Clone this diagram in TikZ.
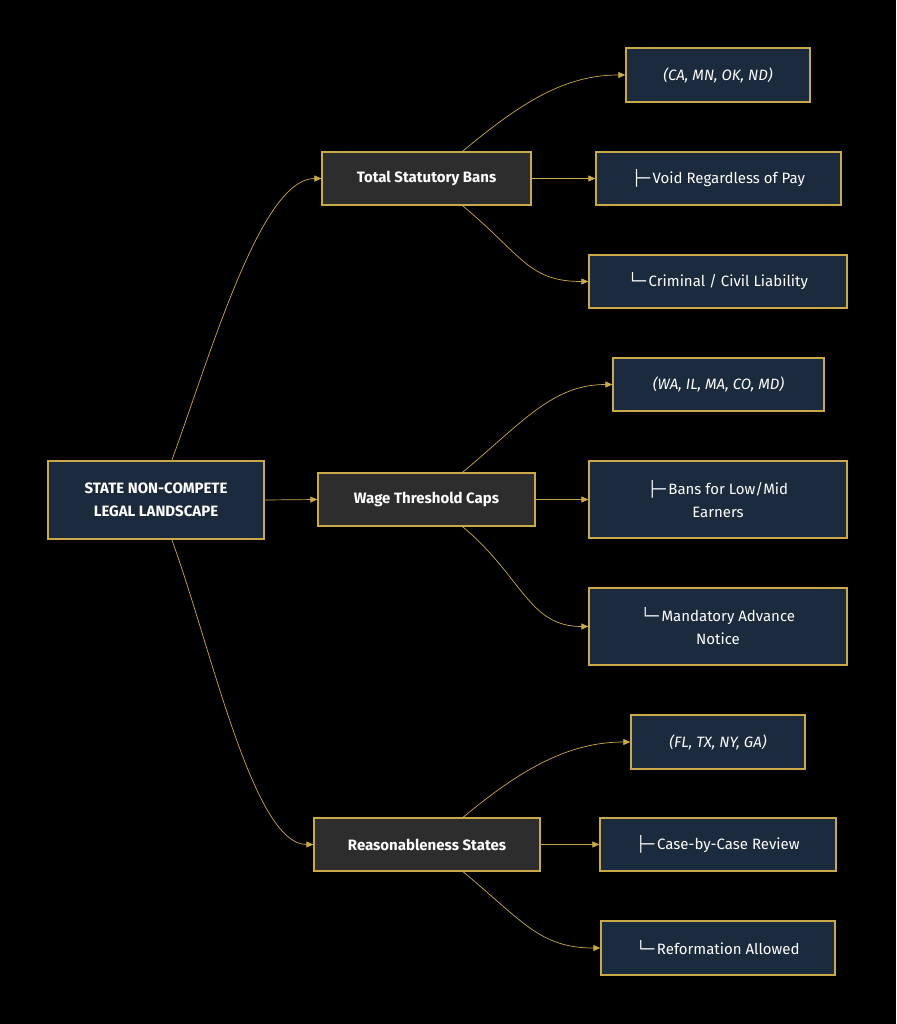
\documentclass[tikz,border=0pt]{standalone}
\usepackage{fontspec}
\setmainfont{Fira Sans}
\newfontfamily\djv{DejaVu Sans}
\usetikzlibrary{arrows.meta}
\definecolor{gold}{HTML}{C9A94A}
\definecolor{navy}{HTML}{1C2A3E}
\definecolor{midg}{HTML}{2D2D2D}
\begin{document}
\begin{tikzpicture}[x=1pt,y=-1pt,
 box/.style={draw=gold,line width=1.3pt,text=white,align=center,inner sep=0pt,font=\fontsize{15}{23}\selectfont},
 root/.style={box,fill=navy,line width=2.4pt,font=\bfseries\fontsize{15}{23}\selectfont},
 mid/.style={box,fill=midg,font=\bfseries\fontsize{15}{23}\selectfont},
 leaf/.style={box,fill=navy},
 ed/.style={draw=gold,line width=0.7pt,-{Triangle[length=7pt,width=6pt]}}]
\fill[black] (0,0) rectangle (896,1024);
\newcommand\bx[6]{\node[#1,minimum width=#4-#3,minimum height=#6-#5] (#2) at ({(#3+#4)/2},{(#5+#6)/2})}
\bx{root}{r}{48}{264}{461}{539}{STATE NON-COMPETE\\LEGAL LANDSCAPE};
\bx{mid}{a}{322}{531}{152}{205}{Total Statutory Bans};
\bx{mid}{b}{318}{535}{473}{526}{Wage Threshold Caps};
\bx{mid}{c}{314}{540}{818}{871}{Reasonableness States};
\bx{leaf}{a1}{626}{810}{48}{102}{\itshape (CA, MN, OK, ND)};
\bx{leaf}{a2}{596}{841}{152}{205}{{\djv ├─}\,Void Regardless of Pay};
\bx{leaf}{a3}{589}{847}{255}{308}{{\djv └─}\,Criminal / Civil Liability};
\bx{leaf}{b1}{613}{824}{358}{411}{\itshape (WA, IL, MA, CO, MD)};
\bx{leaf}{b2}{589}{847}{461}{538}{{\djv ├─}\,Bans for Low/Mid\\Earners};
\bx{leaf}{b3}{589}{847}{588}{665}{{\djv └─}\,Mandatory Advance\\Notice};
\bx{leaf}{c1}{631}{805}{715}{769}{\itshape (FL, TX, NY, GA)};
\bx{leaf}{c2}{600}{836}{818}{871}{{\djv ├─}\,Case-by-Case Review};
\bx{leaf}{c3}{601}{835}{921}{975}{{\djv └─}\,Reformation Allowed};
\draw[ed] ([xshift=16]r.north) .. controls +(40,-110) and +(-60,0) .. (a.west);
\draw[ed] (r.east) -- (b.west);
\draw[ed] ([xshift=16]r.south) .. controls +(40,110) and +(-60,0) .. (c.west);
\foreach \m in {a,b,c}{
 \draw[ed] ([xshift=36]\m.north) .. controls +(60,-50) and +(-60,0) .. (\m1.west);
 \draw[ed] (\m.east) -- (\m2.west);
 \draw[ed] ([xshift=36]\m.south) .. controls +(60,50) and +(-60,0) .. (\m3.west);
}
\end{tikzpicture}
\end{document}
